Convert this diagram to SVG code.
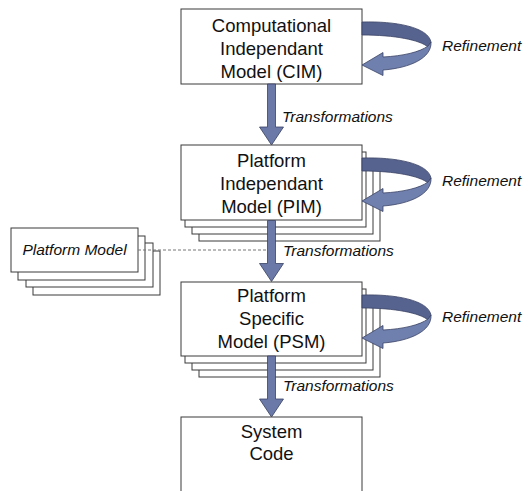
<svg xmlns="http://www.w3.org/2000/svg" xmlns:xlink="http://www.w3.org/1999/xlink" width="528" height="491" viewBox="0 0 528 491">
  <style>
    .box { fill: #ffffff; stroke: #3a3a3a; stroke-width: 1; }
    .title { font-family: "Liberation Sans", Arial, sans-serif; font-size: 18.5px; fill: #111111; text-anchor: middle; }
    .label { font-family: "Liberation Sans", Arial, sans-serif; font-size: 15.5px; font-style: italic; fill: #111111; }
    .xform { fill: #6a79a8; stroke: #3a4264; stroke-width: 0.8; }
    .band-back { fill: #56638f; stroke: #3a4264; stroke-width: 0.8; }
    .band-front { fill: #7080ae; stroke: #3a4264; stroke-width: 0.8; }
    .link { fill: none; stroke: #777777; stroke-width: 1; stroke-dasharray: 3 2; }
  </style>
  <defs>
    <!-- downward block arrow, origin at top centre of the shaft -->
    <path id="xformArrow" class="xform" d="M-4,0 L4,0 L4,43 L12,43 L0,61 L-12,43 L-4,43 Z"/>
    <!-- looping ribbon arrow, origin at top-right corner of a box -->
    <g id="refineLoop">
      <path class="band-back" d="M0,13 C33,12 66,18 69,33 L66,38 C58,31 33,26 0,26 Z"/>
      <path class="band-front" d="M69,33 C70,49 48,59 21,61 L21,66.5 L0,56 L21,43.5 L21,48 C41,47 58,43 66,37 Z"/>
    </g>
  </defs>

  <!-- platform model stack -->
  <g id="platform-model">
    <rect class="box" x="33" y="251" width="127" height="44"/>
    <rect class="box" x="26" y="243" width="127" height="44"/>
    <rect class="box" x="18" y="236" width="127" height="44"/>
    <rect class="box" x="11" y="228" width="127" height="44"/>
    <text class="label" x="74.5" y="255" text-anchor="middle">Platform Model</text>
  </g>

  <!-- CIM -->
  <g id="cim">
    <rect class="box" x="181" y="9" width="181" height="75"/>
    <text class="title" x="271.5" y="32">Computational</text>
    <text class="title" x="271.5" y="55">Independant</text>
    <text class="title" x="271.5" y="78">Model (CIM)</text>
  </g>

  <!-- PIM stack -->
  <g id="pim">
    <rect class="box" x="199" y="166" width="181" height="75"/>
    <rect class="box" x="192" y="159" width="181" height="75"/>
    <rect class="box" x="185" y="152" width="181" height="75"/>
    <rect class="box" x="181" y="145" width="181" height="75"/>
    <text class="title" x="271.5" y="167">Platform</text>
    <text class="title" x="271.5" y="190">Independant</text>
    <text class="title" x="271.5" y="213">Model (PIM)</text>
  </g>

  <!-- PSM stack -->
  <g id="psm">
    <rect class="box" x="199" y="303" width="181" height="74"/>
    <rect class="box" x="192" y="296" width="181" height="74"/>
    <rect class="box" x="185" y="289" width="181" height="74"/>
    <rect class="box" x="181" y="282" width="181" height="74"/>
    <text class="title" x="271.5" y="302">Platform</text>
    <text class="title" x="271.5" y="325">Specific</text>
    <text class="title" x="271.5" y="348">Model (PSM)</text>
  </g>

  <!-- system code -->
  <g id="system-code">
    <rect class="box" x="181" y="417" width="181" height="90"/>
    <text class="title" x="271.5" y="438">System</text>
    <text class="title" x="271.5" y="460">Code</text>
  </g>

  <!-- connectors -->
  <g id="connectors">
    <line class="link" x1="138" y1="250" x2="267" y2="250"/>
    <use xlink:href="#xformArrow" x="271.5" y="84"/>
    <use xlink:href="#xformArrow" x="271.5" y="220.5"/>
    <use xlink:href="#xformArrow" x="271.5" y="356"/>
    <use xlink:href="#refineLoop" x="362" y="9"/>
    <use xlink:href="#refineLoop" x="362" y="145"/>
    <use xlink:href="#refineLoop" x="362" y="282"/>
    <text class="label" x="282" y="122">Transformations</text>
    <text class="label" x="283" y="256">Transformations</text>
    <text class="label" x="283" y="391">Transformations</text>
    <text class="label" x="442" y="51">Refinement</text>
    <text class="label" x="442" y="186">Refinement</text>
    <text class="label" x="442" y="322">Refinement</text>
  </g>
</svg>
